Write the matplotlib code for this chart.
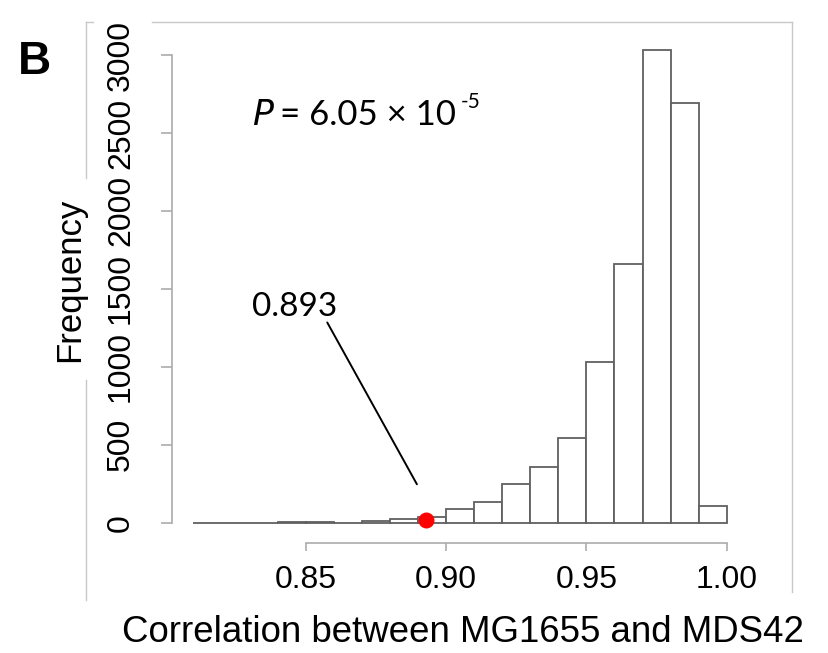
import matplotlib
matplotlib.use("Agg")
import matplotlib.pyplot as plt
from matplotlib.lines import Line2D
import numpy as np

# ---- data ----
bin_left = [0.81, 0.82, 0.83, 0.84, 0.85, 0.86, 0.87, 0.88, 0.89, 0.90,
            0.91, 0.92, 0.93, 0.94, 0.95, 0.96, 0.97, 0.98, 0.99]
counts = [0, 0, 1, 2, 6, 1, 13, 24, 35, 85,
          133, 246, 359, 545, 1028, 1660, 3032, 2694, 107]
bin_width = 0.01
x_ticks = [0.85, 0.90, 0.95, 1.00]
x_ticklabels = ["0.85", "0.90", "0.95", "1.00"]
y_ticks = [0, 500, 1000, 1500, 2000, 2500, 3000]
observed = 0.893
observed_label = "0.893"
xlabel = "Correlation between MG1655 and MDS42"
ylabel = "Frequency"
panel = "B"

W, H = 829, 653
fig = plt.figure(figsize=(W / 100, H / 100), dpi=100)
plt.rcParams['font.family'] = ['Liberation Sans', 'DejaVu Sans']

def fx(px):
    return px / W

def fy(py):
    return 1 - py / H

# axes occupies pixel box x 150..760, y 20..560
ax_l, ax_r, ax_t, ax_b = 150, 760, 20, 560
ax = fig.add_axes([fx(ax_l), fy(ax_b), (ax_r - ax_l) / W, (ax_b - ax_t) / H])
ax.patch.set_alpha(0)

px_per_x = 2807.0
x085 = 305.7
ax.set_xlim(0.85 - (x085 - ax_l) / px_per_x, 0.85 + (ax_r - x085) / px_per_x)
cnt_per_px = 6.415
y0 = 522.7
ax.set_ylim(-(ax_b - y0) * cnt_per_px, (y0 - ax_t) * cnt_per_px)

ax.bar(bin_left, counts, width=bin_width, align='edge', facecolor='white',
       edgecolor='#606060', linewidth=1.3, zorder=2)

for s in ['top', 'right']:
    ax.spines[s].set_visible(False)
spc = '#ababab'
ax.spines['bottom'].set_position(('data', -(543 - y0) * cnt_per_px))
ax.spines['bottom'].set_bounds(0.85, 1.00)
ax.spines['left'].set_position(('data', 0.85 - (x085 - 172) / px_per_x))
ax.spines['left'].set_bounds(0, 3000)
for s in ['bottom', 'left']:
    ax.spines[s].set_color(spc)
    ax.spines[s].set_linewidth(1.2)

ax.set_xticks(x_ticks)
ax.set_xticklabels(x_ticklabels)
ax.set_yticks(y_ticks)
ax.set_yticklabels([str(v) for v in y_ticks], rotation=90, va='center')
ax.tick_params(axis='x', direction='out', length=6, width=1.2, color=spc,
               labelsize=23, pad=10)
ax.tick_params(axis='y', direction='out', length=8, width=1.2, color=spc,
               labelsize=23, pad=18)

# observed point and annotation
ax.plot([observed], [15], 'o', color='#ff0000', markersize=10.5, zorder=5,
        clip_on=False)
ax.annotate('', xy=(0.8901, 231), xytext=(0.8572, 1300),
            arrowprops=dict(arrowstyle='-', color='black', lw=1.4))
ax.text(0.8462, 1326, observed_label, fontsize=24, family=['Lato', 'DejaVu Sans'],
        ha='center', va='baseline')

# outer frame
fc = '#c8c8c8'
segs = [((86, 22), (93, 22)), ((152, 22), (792, 22)),
        ((86, 22), (86, 178)), ((86, 380), (86, 600)),
        ((792, 22), (792, 592))]
for (a, b) in segs:
    fig.add_artist(Line2D([fx(a[0]), fx(b[0])], [fy(a[1]), fy(b[1])],
                          color=fc, lw=1.0, transform=fig.transFigure))

fig.text(fx(70), fy(280), ylabel, rotation=90, fontsize=25, ha='center', va='center')
fig.text(fx(463), fy(632), xlabel, fontsize=26.4, ha='center', va='center')
fig.text(fx(34), fy(62), panel, fontsize=33, fontweight='bold', ha='center', va='center')

fig.text(fx(252), fy(125), r"$\it{P}$", fontsize=25, family=['Lato', 'DejaVu Sans'],
         ha='left', va='baseline')
fig.text(fx(280), fy(125), "= 6.05 \u00d7 10", fontsize=25,
         family=['Lato', 'DejaVu Sans'], ha='left', va='baseline')
fig.text(fx(461), fy(108), "-5", fontsize=15, family=['Lato', 'DejaVu Sans'],
         ha='left', va='baseline')

fig.savefig('out.png', dpi=100, facecolor='white')
